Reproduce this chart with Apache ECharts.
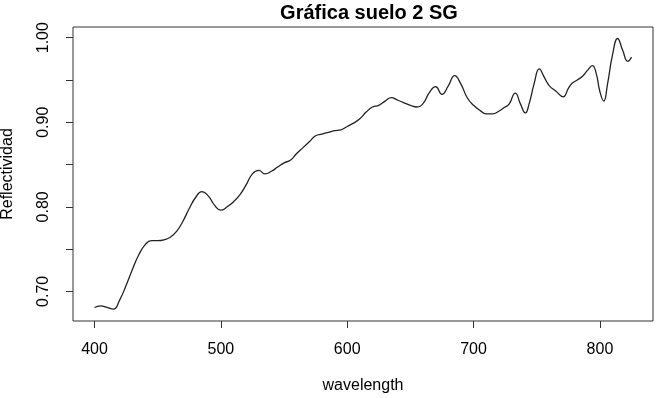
<!DOCTYPE html>
<html>
<head>
<meta charset="utf-8">
<script src="https://cdn.jsdelivr.net/npm/echarts@6/dist/echarts.min.js"></script>
<style>html,body{margin:0;padding:0;background:#fff}#c{width:656px;height:398px}</style>
</head>
<body>
<div id="c"></div>
<script>
var wavelength = [400,405,410,415,420,425,430,435,440,445,450,455,460,465,470,475,480,485,490,495,500,505,510,515,520,525,530,535,540,545,550,555,560,565,570,575,580,585,590,595,600,605,610,615,620,625,630,635,640,645,650,655,660,665,670,675,680,685,690,695,700,705,710,715,720,725,728,733,737,741,744,748,752,756,760,765,771,775,778,782,786,790,794,797,800,803,806,810,814,818,822,825];
var reflectividad = [0.681,0.683,0.681,0.679,0.690,0.707,0.726,0.743,0.755,0.760,0.760,0.761,0.764,0.771,0.783,0.798,0.811,0.818,0.813,0.802,0.796,0.800,0.806,0.814,0.826,0.839,0.843,0.839,0.842,0.847,0.852,0.855,0.863,0.870,0.877,0.884,0.886,0.888,0.890,0.891,0.895,0.899,0.904,0.912,0.918,0.920,0.925,0.929,0.926,0.923,0.920,0.918,0.922,0.935,0.942,0.933,0.943,0.955,0.945,0.929,0.920,0.914,0.910,0.910,0.913,0.918,0.921,0.9345,0.922,0.911,0.922,0.946,0.963,0.953,0.943,0.937,0.930,0.940,0.946,0.950,0.954,0.961,0.967,0.958,0.936,0.925,0.945,0.980,0.999,0.985,0.972,0.977];
var xTicks = [400,500,600,700,800];
var yLabels = [0.70,0.80,0.90,1.00];
var yTicks = [0.70,0.75,0.80,0.85,0.90,0.95,1.00];
var titleText = 'Gráfica suelo 2 SG';
var xName = 'wavelength';
var yName = 'Reflectividad';

var pts = wavelength.map(function(w,i){return [w, reflectividad[i]];});
var chart = echarts.init(document.getElementById('c'), null, {renderer:'canvas'});
var font = 'Liberation Sans, Arial, sans-serif';
chart.setOption({
  animation:false,
  backgroundColor:'#fff',
  title:{text:titleText,left:364,top:-2,textAlign:'center',textStyle:{fontFamily:font,fontSize:20,fontWeight:'bold',color:'#000'}},
  grid:{left:73,right:3,top:27,bottom:77,show:true,borderColor:'#333',borderWidth:1,backgroundColor:'transparent',outerBoundsMode:'none',containLabel:false},
  xAxis:{type:'value',min:383,max:842,
    name:xName,nameLocation:'middle',nameGap:57,nameTextStyle:{fontFamily:font,fontSize:16,color:'#000'},
    axisLine:{show:false},
    axisTick:{show:true,customValues:xTicks,length:7,lineStyle:{color:'#333'}},
    axisLabel:{customValues:xTicks,fontFamily:font,fontSize:16,color:'#000',margin:21},
    splitLine:{show:false}},
  yAxis:{type:'value',min:0.665,max:1.0126,
    name:yName,nameLocation:'middle',nameGap:57,nameTextStyle:{fontFamily:font,fontSize:16,color:'#000'},
    axisLine:{show:false},
    axisTick:{show:true,customValues:yTicks,length:7,lineStyle:{color:'#333'}},
    axisLabel:{customValues:yLabels,rotate:90,fontFamily:font,fontSize:16,color:'#000',margin:21,
      formatter:function(v){return v.toFixed(2);}},
    splitLine:{show:false}},
  series:[{type:'line',data:pts,smooth:0.5,showSymbol:false,lineStyle:{color:'#222',width:1.3}}]
});
</script>
</body>
</html>
